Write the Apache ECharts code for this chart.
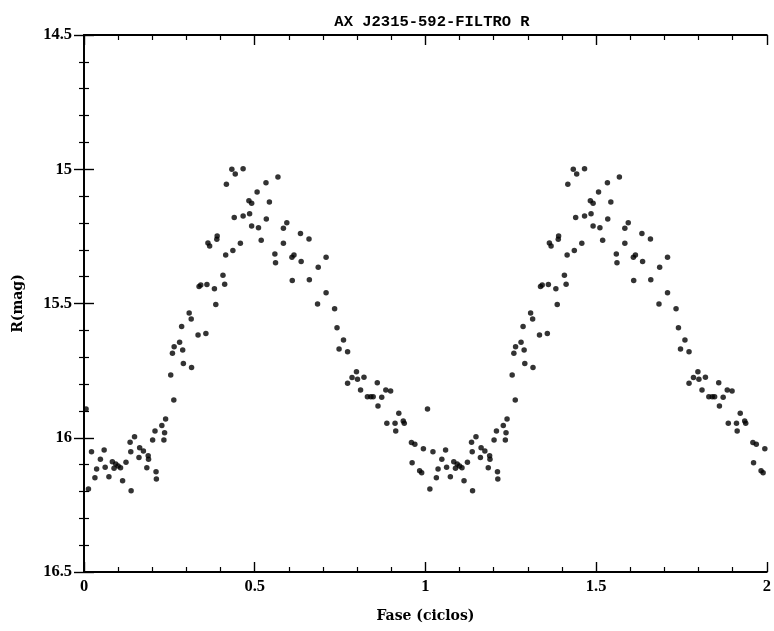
<!DOCTYPE html>
<html>
<head>
<meta charset="utf-8">
<script src="https://cdn.jsdelivr.net/npm/echarts@6/dist/echarts.min.js"></script>
<style>html,body{margin:0;padding:0;background:#fff;}#c{width:774px;height:631px;}</style>
</head>
<body>
<div id="c"></div>
<script>
// Phase (one cycle) and R magnitude
var phase = [0.006,0.013,0.022,0.032,0.037,0.048,0.059,0.062,0.073,0.083,0.093,0.100,0.107,0.088,0.113,0.123,0.135,0.137,0.138,0.148,
0.163,0.161,0.174,0.188,0.189,0.184,0.201,0.208,0.211,0.212,0.228,0.234,0.236,0.239,0.254,0.263,0.259,0.264,0.280,0.289,
0.291,0.286,0.308,0.314,0.315,0.334,0.357,0.337,0.342,0.360,0.382,0.386,0.407,0.412,0.363,0.368,0.390,0.389,0.415,0.436,
0.458,0.417,0.433,0.443,0.466,0.440,0.466,0.485,0.483,0.491,0.507,0.533,0.568,0.543,0.534,0.491,0.511,0.519,0.594,0.584,
0.584,0.559,0.561,0.609,0.615,0.634,0.636,0.659,0.610,0.660,0.709,0.686,0.709,0.684,0.734,0.741,0.760,0.747,0.772,0.798,
0.785,0.801,0.820,0.772,0.810,0.859,0.830,0.840,0.847,0.872,0.861,0.884,0.898,0.922,0.887,0.911,0.913,0.935,0.938,0.959,
0.969,0.961,0.983,0.989,0.994];
var mag = [15.893,16.191,16.052,16.149,16.116,16.080,16.046,16.110,16.145,16.089,16.098,16.105,16.112,16.114,16.160,16.091,16.017,16.052,16.197,15.996,
16.037,16.074,16.049,16.067,16.080,16.112,16.008,15.975,16.127,16.154,15.954,16.008,15.981,15.930,15.766,15.859,15.685,15.661,15.644,15.673,
15.723,15.586,15.535,15.558,15.738,15.617,15.612,15.437,15.431,15.429,15.445,15.504,15.395,15.428,15.275,15.286,15.249,15.261,15.319,15.303,
15.276,15.056,15.000,15.018,14.998,15.180,15.174,15.166,15.117,15.127,15.085,15.050,15.029,15.122,15.185,15.211,15.218,15.264,15.199,15.220,
15.276,15.316,15.348,15.328,15.319,15.239,15.344,15.260,15.414,15.412,15.328,15.365,15.460,15.502,15.520,15.590,15.636,15.669,15.680,15.754,
15.776,15.782,15.775,15.797,15.822,15.795,15.847,15.847,15.847,15.849,15.882,15.822,15.826,15.909,15.946,15.946,15.975,15.938,15.946,16.018,
16.024,16.093,16.123,16.130,16.041];
var cycles = [0, 1];
var xTickLabels = ['0','0.5','1','1.5','2'];
var yTickLabels = ['14.5','15','15.5','16','16.5'];

var pts = [];
cycles.forEach(function(c){
  for (var i = 0; i < phase.length; i++) pts.push([phase[i] + c, mag[i]]);
});

var labelFont = 'Liberation Serif';
var nameFont = 'DejaVu Serif';
var tickStyle = {show:true, inside:true, length:10, lineStyle:{color:'#000', width:1.4}};
var minorStyle = {show:true, splitNumber:5, length:5, lineStyle:{color:'#000', width:1.2}};
var lineStyle = {show:true, lineStyle:{color:'#000', width:1.8}};

var chart = echarts.init(document.getElementById('c'), null, {renderer:'canvas'});
chart.setOption({
  animation:false,
  backgroundColor:'#fff',
  title:{text:'AX J2315-592-FILTRO R', left:427, top:9, textAlign:'center',
    textStyle:{fontFamily:'Liberation Mono', fontWeight:'bold', fontSize:15.5, color:'#000'}},
  grid:{left:84, right:5, top:35, bottom:59},
  xAxis:[{
    type:'value', min:0, max:2, interval:0.5, position:'bottom',
    name:'Fase (ciclos)', nameLocation:'middle', nameGap:37,
    nameTextStyle:{fontFamily:nameFont, fontWeight:'bold', fontSize:14, color:'#000'},
    axisLine:lineStyle, axisTick:tickStyle, minorTick:minorStyle,
    splitLine:{show:false},
    axisLabel:{fontFamily:labelFont, fontWeight:'bold', fontSize:16.5, color:'#000', margin:6,
      formatter:function(v){ return xTickLabels[Math.round(v/0.5)]; }}
  },{
    type:'value', min:0, max:2, interval:0.5, position:'top',
    axisLine:lineStyle, axisTick:tickStyle, minorTick:minorStyle,
    splitLine:{show:false}, axisLabel:{show:false}
  }],
  yAxis:[{
    type:'value', min:14.5, max:16.5, interval:0.5, inverse:true, position:'left',
    name:'R(mag)', nameLocation:'middle', nameGap:59,
    nameTextStyle:{fontFamily:nameFont, fontWeight:'bold', fontSize:14, color:'#000'},
    axisLine:lineStyle, axisTick:tickStyle, minorTick:minorStyle,
    splitLine:{show:false},
    axisLabel:{fontFamily:labelFont, fontWeight:'bold', fontSize:16.5, color:'#000', margin:12,
      formatter:function(v){ return yTickLabels[Math.round((v-14.5)/0.5)]; }}
  },{
    type:'value', min:14.5, max:16.5, interval:0.5, inverse:true, position:'right',
    axisLine:lineStyle, axisTick:tickStyle, minorTick:minorStyle,
    splitLine:{show:false}, axisLabel:{show:false}
  }],
  series:[{
    type:'scatter', xAxisIndex:0, yAxisIndex:0, data:pts,
    symbol:'circle', symbolSize:5.5, itemStyle:{color:'#000'}
  }]
});
</script>
</body>
</html>
